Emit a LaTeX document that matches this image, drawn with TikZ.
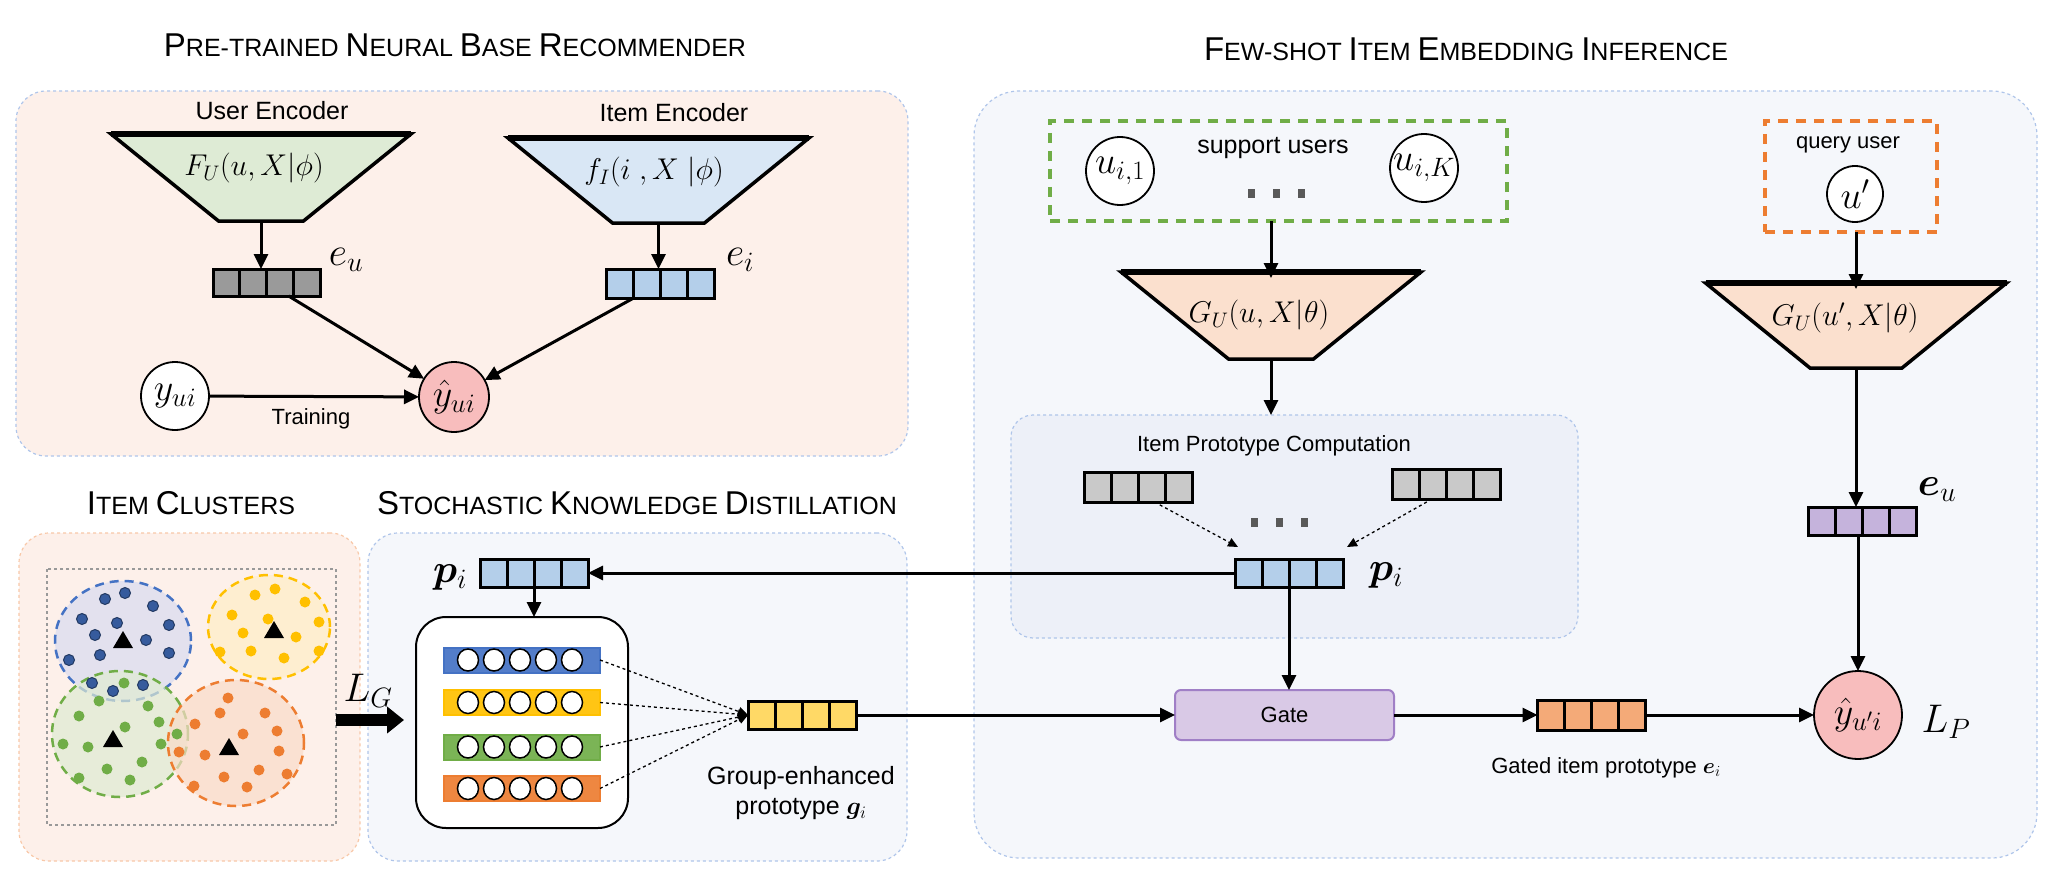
\RequirePackage{fix-cm}
\documentclass[tikz,border=0pt]{standalone}
\usepackage{amsmath, amssymb, bm}
\usepackage{fontspec}
\setmainfont{Liberation Sans}
\usepackage{tikz}
\usetikzlibrary{arrows.meta, calc, positioning}

\definecolor{panelpink}{HTML}{FDF0EA}
\definecolor{panelblue}{HTML}{F5F7FB}
\definecolor{protoblue}{HTML}{EDF0F8}
\definecolor{edgeblue}{HTML}{AFC5EA}
\definecolor{edgeorange}{HTML}{F8C8A8}
\definecolor{encgreen}{HTML}{DEEBD5}
\definecolor{encblue}{HTML}{D9E7F5}
\definecolor{encpeach}{HTML}{FBE0CE}
\definecolor{vgray}{HTML}{9A9A9A}
\definecolor{vlight}{HTML}{C9C9C9}
\definecolor{vblue}{HTML}{B4CFEA}
\definecolor{vyellow}{HTML}{FFD966}
\definecolor{vorange}{HTML}{F4AA78}
\definecolor{vpurple}{HTML}{C5B3DC}
\definecolor{gatefill}{HTML}{D9C9E6}
\definecolor{gateedge}{HTML}{A07FC6}
\definecolor{predpink}{HTML}{F8BDBD}
\definecolor{cblue}{HTML}{4472C4}
\definecolor{cyellow}{HTML}{FFC000}
\definecolor{cgreen}{HTML}{70AD47}
\definecolor{corange}{HTML}{ED7D31}
\definecolor{clblue}{HTML}{D8DCF0}
\definecolor{clyellow}{HTML}{FFEEC6}
\definecolor{clgreen}{HTML}{DFEBD2}
\definecolor{clorange}{HTML}{F9DCC8}
\definecolor{dotgray}{HTML}{595959}

\newcommand{\bigc}[1]{{\fontsize{33}{36}\selectfont #1}}

\begin{document}
\begin{tikzpicture}[x=1pt, y=-1pt,
  every node/.style={inner sep=0pt, outer sep=0pt},
  ttl/.style={font=\fontsize{25}{30}\selectfont},
  txt/.style={font=\fontsize{25}{30}\selectfont},
  note/.style={font=\fontsize{22}{26}\selectfont},
  mlbl/.style={font=\fontsize{40}{46}\selectfont},
  enclbl/.style={font=\fontsize{30}{36}\selectfont},
  panel/.style={draw=edgeblue, dashed, line width=1.2pt, rounded corners=30pt},
  vecbox/.style={draw, line width=3pt, fill=#1, minimum width=108pt, minimum height=28pt,
    path picture={\foreach \k in {1,2,3}{\draw[line width=3pt]
      ($(path picture bounding box.south west)!\k/4!(path picture bounding box.south east)$) --
      ($(path picture bounding box.north west)!\k/4!(path picture bounding box.north east)$);}}},
  bar/.style={draw=#1, line width=2pt, fill=#1!92!white, minimum width=156pt, minimum height=25pt},
  circ/.style={circle, draw, line width=1.8pt, fill=white, minimum size=68pt, font=\fontsize{38}{44}\selectfont},
  arr/.style={line width=3pt, -{Triangle[length=15pt, width=14pt]}},
  darr/.style={dashed, line width=1.3pt, -{Triangle[length=10pt, width=9pt]}},
]
  \useasboundingbox (0,0) rectangle (2062,872);

  % Macros
  \newcommand{\encoder}[7]{
    % #1: name, #2: center x, #3: top y, #4: top half width, #5: bottom half width, #6: height, #7: fill
    \filldraw[fill=#7, line width=3.5pt, line join=miter] (#2-#4,#3) -- (#2+#4,#3) -- (#2+#5,#3+#6) -- (#2-#5,#3+#6) -- cycle;
    \draw[line width=6pt] (#2-#4,#3) -- (#2+#4,#3);
    \coordinate (#1-t) at (#2,#3);
    \coordinate (#1-b) at (#2,#3+#6);
  }
  \newcommand{\threedots}[2]{
    \foreach \d in {-25,0,25}{\fill[dotgray] (#1+\d-3.5,#2-4.5) rectangle (#1+\d+3.5,#2+4.5);}
  }

  % Panels
  \node[panel, fill=panelpink, minimum width=892pt, minimum height=365pt] (prp) at (462,273.5) {};
  \node[panel, draw=edgeorange, fill=panelpink, minimum width=341pt, minimum height=328pt] (clu) at (189.5,697) {};
  \node[panel, fill=panelblue, minimum width=539pt, minimum height=328pt] (skd) at (637.5,697) {};
  \node[panel, fill=panelblue, minimum width=1063pt, minimum height=767pt, rounded corners=45pt] (fsi) at (1505.5,474.5) {};
  \node[panel, fill=protoblue, minimum width=567pt, minimum height=223pt, rounded corners=22pt] (ipc) at (1294.5,526.5) {};

  % Titles
  \node[ttl] (t1) at (455,45) {{\bigc P}RE-TRAINED {\bigc N}EURAL {\bigc B}ASE {\bigc R}ECOMMENDER};
  \node[ttl] (t2) at (1466,49) {{\bigc F}EW-SHOT {\bigc I}TEM {\bigc E}MBEDDING {\bigc I}NFERENCE};
  \node[ttl] (t3) at (191,503) {{\bigc I}TEM {\bigc C}LUSTERS};
  \node[ttl] (t4) at (637,503) {{\bigc S}TOCHASTIC {\bigc K}NOWLEDGE {\bigc D}ISTILLATION};

  % Pre-trained base recommender
  \node[txt] (ulbl) at (272,111) {User Encoder};
  \node[txt] (ilbl) at (674,113) {Item Encoder};
  \encoder{ue}{261}{134}{150}{42.5}{87}{encgreen}
  \encoder{ie}{658.5}{138}{150.5}{46}{85}{encblue}
  \node[enclbl] (uenc) at (254,168) {$F_U(u,X|\phi)$};
  \node[enclbl] (ienc) at (654,172) {$f_I(i\;,X\;|\phi)$};
  \node[vecbox=vgray, minimum width=107pt, minimum height=27pt] (eu) at (266.5,282.5) {};
  \node[vecbox=vblue, minimum height=29pt] (ei) at (660,283.5) {};
  \node[mlbl] (eulbl) at (346,260) {$e_u$};
  \node[mlbl] (eilbl) at (740,260) {$e_i$};
  \node[circ] (yui) at (175,396) {$y_{ui}$};
  \node[circ, fill=predpink, minimum size=70pt] (yhat) at (454,397) {$\hat{y}_{ui}$};
  \node[note] (train) at (311,419) {Training};
  \draw[arr] (ue-b) -- (ue-b |- eu.north);
  \draw[arr] (ie-b) -- (ie-b |- ei.north);
  \draw[arr] (eu) -- (yhat);
  \draw[arr] (ei) -- (yhat);
  \draw[arr] (yui) -- (yhat);

  % Item clusters
  \draw[gray!80, dashed, line width=1.2pt] (47,569) rectangle (336,825);
  \begin{scope}[line width=2.5pt, dash pattern=on 9pt off 6pt]
    \filldraw[draw=cblue, fill=clblue, fill opacity=0.7] (123,641) ellipse[x radius=68pt, y radius=60pt];
    \filldraw[draw=cyellow, fill=clyellow, fill opacity=0.7] (269,627) ellipse[x radius=61pt, y radius=52pt];
    \filldraw[draw=cgreen, fill=clgreen, fill opacity=0.7] (120,734) ellipse[x radius=68pt, y radius=63pt];
    \filldraw[draw=corange, fill=clorange, fill opacity=0.7] (236,743) ellipse[x radius=68pt, y radius=63pt];
  \end{scope}
  \foreach \x/\y in {125/593,105/599,153/606,82/619,117/623,169/625,95/635,146/640,100/655,69/660,169/653,92/683,113/691,143/685}
    \filldraw[fill=cblue!80!black, draw=cblue!50!black, line width=1pt] (\x,\y) circle[radius=5.5pt];
  \foreach \x/\y in {255/595,275/589,305/602,232/615,268/619,319/622,243/633,296/637,220/652,251/651,284/658,319/651}
    \fill[cyellow] (\x,\y) circle[radius=5.5pt];
  \foreach \x/\y in {124/683,99/701,148/706,79/716,125/727,159/722,63/744,88/747,161/744,177/734,107/769,142/762,79/778,130/780}
    \fill[cgreen] (\x,\y) circle[radius=5.5pt];
  \foreach \x/\y in {228/698,220/713,265/713,195/724,243/734,277/731,179/752,205/755,279/751,259/770,224/777,287/774,194/786,247/787}
    \fill[corange] (\x,\y) circle[radius=5.5pt];
  \foreach \x/\y in {123/640,274/630,113/739,229/747}
    \fill[black] (\x-10,\y+8) -- (\x+10,\y+8) -- (\x,\y-9) -- cycle;

  % Stochastic knowledge distillation
  \node[vecbox=vblue] (pil) at (534,573) {};
  \node[mlbl] (pillbl) at (450,577) {$\bm{p}_i$};
  \node[draw, line width=2pt, fill=white, rounded corners=30pt, minimum width=212pt, minimum height=211pt] (gbox) at (522,722.5) {};
  \node[bar=cblue] (b1) at (522,660) {};
  \node[bar=cyellow] (b2) at (522,702.5) {};
  \node[bar=cgreen] (b3) at (522,747) {};
  \node[bar=corange] (b4) at (522,788.5) {};
  \foreach \b in {b1,b2,b3,b4}
    \foreach \k in {0,...,4}
      \draw[fill=white, line width=1.5pt] ($(\b.west)+(24+26*\k,0)$) ellipse[x radius=10.5pt, y radius=11pt];
  \node[vecbox=vyellow] (gv) at (802,715) {};
  \foreach \b in {b1,b2,b3,b4}
    \draw[darr] (\b.east) -- (gv.west);
  \node[txt, align=center] (glbl) at (801,793) {Group-enhanced\\prototype $\bm{g}_i$};
  \coordinate (lgs) at (336,720);
  \draw[line width=12pt, -{Triangle[length=17pt, width=26pt]}] (lgs) -- ([xshift=-12pt]gbox.west |- lgs);
  \node[mlbl] (lg) at (368,691) {$L_G$};
  \draw[arr] (pil.south) -- (pil.south |- gbox.north);

  % Few-shot item embedding inference
  \node[draw=cgreen, line width=3.5pt, dash pattern=on 10pt off 8pt, minimum width=457pt, minimum height=100pt] (supp) at (1278.5,171) {};
  \node[circ] (ui1) at (1120,171) {$u_{i,1}$};
  \node[circ] (uik) at (1424,168) {$u_{i,K}$};
  \node[txt] (slbl) at (1273,148) {support users};
  \threedots{1276}{193}
  \node[draw=corange, line width=3.5pt, dash pattern=on 10pt off 8pt, minimum width=172pt, minimum height=111pt] (qbox) at (1851,176.5) {};
  \node[note] (qlbl) at (1848,145) {query user};
  \node[circ, minimum size=56pt] (uq) at (1855,194) {$u'$};
  \encoder{gl}{1271}{272}{150}{42.5}{87}{encpeach}
  \encoder{gr}{1856}{283}{150.5}{46}{85}{encpeach}
  \node[enclbl] (glenc) at (1259,315) {$G_U(u,X|\theta)$};
  \node[enclbl] (grenc) at (1845,318) {$G_U(u',X|\theta)$};
  \draw[arr] (supp.south -| gl-t) -- ([yshift=-6pt]gl-t);
  \draw[arr] (qbox.south -| gr-t) -- ([yshift=-6pt]gr-t);
  \draw[arr] (gl-b) -- (gl-b |- ipc.north);

  % Item prototype computation
  \node[note] (ipclbl) at (1274,446) {Item Prototype Computation};
  \node[vecbox=vlight, minimum height=30pt] (gv1) at (1138.5,487) {};
  \node[vecbox=vlight, minimum height=30pt] (gv2) at (1446,484) {};
  \threedots{1279}{522}
  \node[vecbox=vblue] (pir) at (1289,573) {};
  \node[mlbl] (pirlbl) at (1386,575) {$\bm{p}_i$};
  \draw[darr] ([xshift=16pt]gv1.south) -- ([xshift=3pt, yshift=12pt]pir.north west);
  \draw[darr] ([xshift=-14pt]gv2.south) -- ([xshift=4pt, yshift=12pt]pir.north east);
  \draw[arr] (pir.west) -- (pil.east);

  % Gate and prediction
  \node[draw=gateedge, fill=gatefill, line width=2pt, rounded corners=6pt, minimum width=219pt, minimum height=50pt, note] (gate) at (1284.5,715) {Gate};
  \node[vecbox=vorange, minimum height=30pt] (eo) at (1591.5,715) {};
  \node[note] (eolbl) at (1606,768) {Gated item prototype $\bm{e}_i$};
  \node[vecbox=vpurple] (eup) at (1862,521) {};
  \node[mlbl] (euplbl) at (1937,490) {$\bm{e}_u$};
  \node[circ, fill=predpink, minimum size=88pt] (yq) at (1858,715) {$\hat{y}_{u'i}$};
  \node[mlbl] (lp) at (1946,722) {$L_P$};
  \draw[arr] (pir.south) -- (pir.south |- gate.north);
  \draw[arr] (gv.east) -- (gate.west);
  \draw[arr] (gate.east) -- (eo.west);
  \draw[arr] (eo.east) -- (yq.west);
  \draw[arr] (gr-b) -- (gr-b |- eup.north);
  \draw[arr] (eup.south -| yq.north) -- (yq.north);

\end{tikzpicture}
\end{document}
